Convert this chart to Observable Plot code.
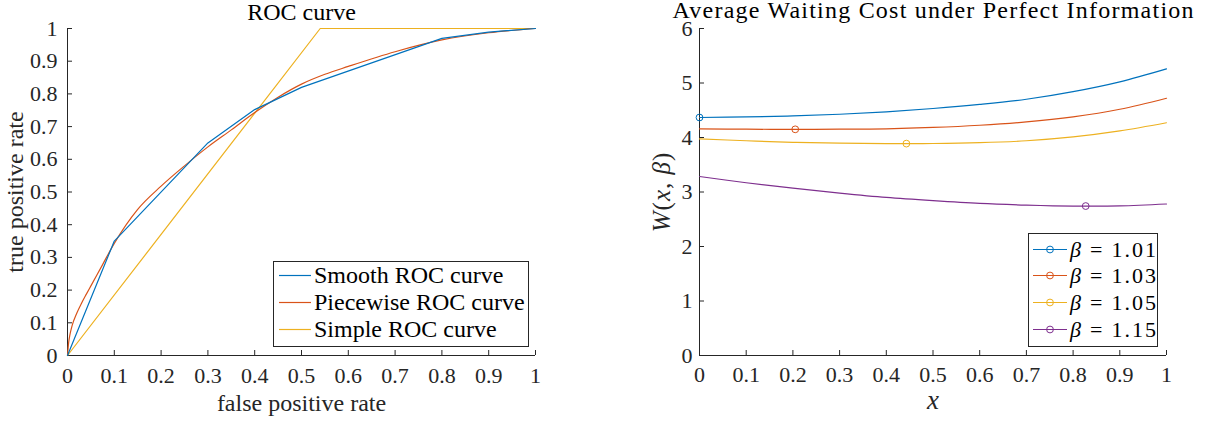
<!DOCTYPE html>
<html>
<head>
<meta charset="utf-8">
<script src="https://cdn.jsdelivr.net/npm/d3@7"></script>
<script src="https://cdn.jsdelivr.net/npm/@observablehq/plot@0.6"></script>
<style>
  html, body { margin: 0; padding: 0; background: #fff; }
  #wrap { position: relative; width: 1205px; height: 423px; overflow: hidden; font-family: "Liberation Serif", serif; color: #000; }
  #wrap > svg { position: absolute; top: 0; }
  .legend { position: absolute; box-sizing: border-box; border: 1px solid #262626; background: #fff; }
  .legend .row { position: absolute; left: 0; right: 0; height: 27px; }
  .legend .row svg { position: absolute; top: 0; left: 0; }
  .legend .row .lab { position: absolute; top: 0; line-height: 27px; white-space: nowrap; color: #000; font-family: "Liberation Serif", serif; }
  .legend .eq { margin: 0 9px; }
  .legend .num { letter-spacing: 2px; }
</style>
</head>
<body>
<div id="wrap"></div>
<script>
// ---------- ROC curves ----------
const rocNames = ["Smooth ROC curve", "Piecewise ROC curve", "Simple ROC curve"];

const smoothFpr = [0, 0.1, 0.3, 0.4, 0.5, 0.8, 0.9, 1];
const smoothTpr = [0, 0.35, 0.65, 0.752, 0.82, 0.97, 0.989, 1];

const piecewiseFpr = [0, 0.0025, 0.005, 0.01, 0.02, 0.03, 0.04, 0.05, 0.075, 0.1, 0.15, 0.2, 0.25, 0.3, 0.35, 0.4, 0.45, 0.5, 0.55, 0.6, 0.7, 0.8, 0.9, 1];
const piecewiseTpr = [0, 0.04, 0.062, 0.092, 0.13, 0.16, 0.187, 0.213, 0.278, 0.343, 0.447, 0.518, 0.58, 0.638, 0.69, 0.743, 0.79, 0.83, 0.86, 0.884, 0.929, 0.965, 0.987, 1];

const simpleFpr = [0, 0.54, 1];
const simpleTpr = [0, 1, 1];

const rateTicks = [0, 0.1, 0.2, 0.3, 0.4, 0.5, 0.6, 0.7, 0.8, 0.9, 1];

// ---------- Average waiting cost W(x, beta) ----------
const betas = ["1.01", "1.03", "1.05", "1.15"];
const xGrid = [0, 0.1, 0.2, 0.3, 0.4, 0.5, 0.6, 0.7, 0.8, 0.9, 1];
const wBeta101 = [4.367, 4.377, 4.397, 4.427, 4.472, 4.532, 4.607, 4.702, 4.842, 5.022, 5.26];
const wBeta103 = [4.16, 4.152, 4.15, 4.152, 4.16, 4.185, 4.225, 4.285, 4.378, 4.518, 4.72];
const wBeta105 = [3.975, 3.94, 3.912, 3.895, 3.888, 3.89, 3.905, 3.94, 4.01, 4.12, 4.27];
const wBeta115 = [3.284, 3.17, 3.07, 2.98, 2.90, 2.84, 2.79, 2.76, 2.742, 2.745, 2.78];

// minimiser of each curve
const minX = [0, 0.205, 0.443, 0.827];
const minW = [4.367, 4.15, 3.888, 2.742];

const wTicks = [0, 1, 2, 3, 4, 5, 6];

const colors = ["#0072BD", "#D95319", "#EDB120", "#7E2F8E"];
const ink = "#262626";

const rocTitle = "ROC curve";
const rocXLabel = "false positive rate";
const rocYLabel = "true positive rate";
const wTitle = "Average Waiting Cost under Perfect Information";
const wYLabel = "W(x, β)";
const wXLabel = "x";

const zip = (xs, ys, key) => xs.map((x, i) => ({x, y: ys[i], key}));

const wrap = document.getElementById("wrap");

const serif = "'Liberation Serif', serif";
const baseStyle = {
  fontFamily: serif,
  fontSize: "22px",
  color: ink,
  background: "transparent",
  overflow: "visible"
};

// inward ticks, outside labels, left and bottom axis lines only
function axesFor(xTicks, yTicks, xPad, yPad) {
  const fmt = d => String(d);
  return [
    Plot.axisX(xTicks, {tickSize: -5, tickFormat: () => "", label: null}),
    Plot.axisX(xTicks, {tickSize: 0, tickPadding: xPad, tickFormat: fmt, fontSize: 22, fontFamily: serif, label: null}),
    Plot.axisY(yTicks, {tickSize: -5, tickFormat: () => "", label: null}),
    Plot.axisY(yTicks, {tickSize: 0, tickPadding: yPad, tickFormat: fmt, fontSize: 22, fontFamily: serif, label: null}),
    Plot.ruleX([0], {stroke: ink, strokeWidth: 1}),
    Plot.ruleY([0], {stroke: ink, strokeWidth: 1})
  ];
}

// vertical axis titles are placed from the frame centre
// left panel frame centre x = (67 + 535) / 2, right panel = (99 + 566) / 2
const rocPlot = Plot.plot({
  width: 600, height: 423,
  marginLeft: 67, marginRight: 65, marginTop: 28, marginBottom: 68,
  style: baseStyle,
  x: {domain: [0, 1]},
  y: {domain: [0, 1]},
  marks: [
    ...axesFor(rateTicks, rateTicks, 12, 10),
    Plot.line(zip(simpleFpr, simpleTpr, rocNames[2]), {x: "x", y: "y", stroke: colors[2], strokeWidth: 1.2}),
    Plot.line(zip(piecewiseFpr, piecewiseTpr, rocNames[1]), {x: "x", y: "y", stroke: colors[1], strokeWidth: 1.2, curve: "monotone-x"}),
    Plot.line(zip(smoothFpr, smoothTpr, rocNames[0]), {x: "x", y: "y", stroke: colors[0], strokeWidth: 1.2}),
    Plot.text([rocTitle], {text: d => d, frameAnchor: "top", dy: -8.7, lineAnchor: "bottom", fontSize: 24, fill: "#000"}),
    Plot.text([rocXLabel], {text: d => d, frameAnchor: "bottom", dy: 55, lineAnchor: "bottom", fontSize: 24, fill: ink}),
    Plot.text([rocYLabel], {text: d => d, frameAnchor: "middle", dx: -279, rotate: -90, lineAnchor: "bottom", fontSize: 24, fill: ink})
  ]
});
rocPlot.style.left = "0px";
wrap.appendChild(rocPlot);

const wSeries = [wBeta101, wBeta103, wBeta105, wBeta115];
const minRows = minX.map((x, i) => ({x, y: minW[i], color: colors[i]}));

const wPlot = Plot.plot({
  width: 605, height: 423,
  marginLeft: 99, marginRight: 39, marginTop: 28, marginBottom: 68,
  style: baseStyle,
  x: {domain: [0, 1]},
  y: {domain: [0, 6]},
  marks: [
    ...axesFor(xGrid, wTicks, 11, 7),
    ...wSeries.map((ys, i) => Plot.line(zip(xGrid, ys, betas[i]), {x: "x", y: "y", stroke: colors[i], strokeWidth: 1.2, curve: "catmull-rom"})),
    Plot.dot(minRows, {x: "x", y: "y", r: 3.4, stroke: "color", fill: "none", strokeWidth: 1}),
    Plot.text([wTitle], {text: d => d, frameAnchor: "top", dy: -11, lineAnchor: "bottom", fontSize: 24, fill: "#000"}),
    Plot.text([wXLabel], {text: d => d, frameAnchor: "bottom", dy: 53, lineAnchor: "bottom", fontSize: 27, fontStyle: "italic", fill: ink}),
    Plot.text([wYLabel], {text: d => d, frameAnchor: "middle", dx: -263.5, rotate: -90, lineAnchor: "bottom", fontSize: 25, fill: ink})
  ]
});
wPlot.style.left = "600px";
wrap.appendChild(wPlot);

// math-style label: italic symbols, upright punctuation
d3.select(wPlot).selectAll("text")
  .filter(function () { return this.textContent === wYLabel; })
  .each(function () {
    const t = d3.select(this);
    t.text(null).attr("letter-spacing", "1px");
    [["W", true], ["(", false], ["x", true], [", ", false], ["β", true], [")", false]]
      .forEach(([s, it]) => t.append("tspan").attr("font-style", it ? "italic" : "normal").text(s));
  });

d3.select(wPlot).selectAll("text")
  .filter(function () { return this.textContent === wTitle; })
  .attr("textLength", 521)
  .attr("lengthAdjust", "spacing");

// ---------- legends ----------
function legend(box, entries, opts) {
  const div = document.createElement("div");
  div.className = "legend";
  Object.assign(div.style, {
    left: box.left + "px", top: box.top + "px",
    width: box.width + "px", height: box.height + "px"
  });
  entries.forEach((e, i) => {
    const row = document.createElement("div");
    row.className = "row";
    row.style.top = (opts.firstCenter + i * opts.step - 13.5) + "px";
    const mid = (opts.lineX0 + opts.lineX1) / 2;
    row.innerHTML =
      `<svg width="${opts.lineX1 + 4}" height="27">` +
      `<line x1="${opts.lineX0}" x2="${opts.lineX1}" y1="13.5" y2="13.5" stroke="${e.color}" stroke-width="1.2"/>` +
      (opts.marker ? `<circle cx="${mid}" cy="13.5" r="3.4" fill="none" stroke="${e.color}" stroke-width="1"/>` : "") +
      `</svg><span class="lab" style="left:${opts.textX}px;font-size:${opts.fontSize}px">${e.html}</span>`;
    div.appendChild(row);
  });
  wrap.appendChild(div);
}

legend({left: 273, top: 261, width: 256, height: 86},
  rocNames.map((n, i) => ({color: colors[i], html: n})),
  {firstCenter: 13, step: 27, lineX0: 5, lineX1: 37, textX: 40, fontSize: 24, marker: false});

legend({left: 1028, top: 233, width: 130, height: 114},
  betas.map((b, i) => ({color: colors[i], html: `<i>β</i><span class="eq">=</span><span class="num">${b}</span>`})),
  {firstCenter: 15, step: 26.8, lineX0: 4, lineX1: 38, textX: 41, fontSize: 22, marker: true});
</script>
</body>
</html>
